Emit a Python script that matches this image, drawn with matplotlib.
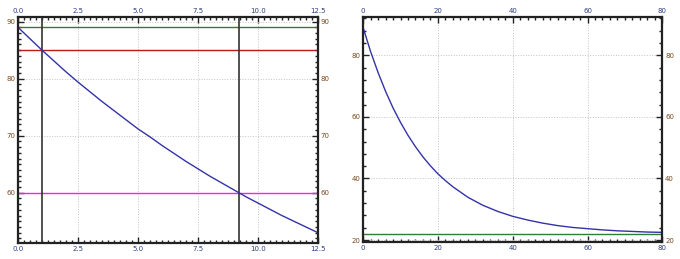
import matplotlib

matplotlib.use("Agg")
import matplotlib.pyplot as plt
from matplotlib.ticker import MultipleLocator

# left panel: cooling curve over the first 12.5 units
t_short = [0.0, 0.5, 1.0, 1.5, 2.0, 2.5, 3.0, 3.5, 4.0, 4.5, 5.0, 5.5, 6.0,
           6.5, 7.0, 7.5, 8.0, 8.5, 9.0, 9.5, 10.0, 10.5, 11.0, 11.5, 12.0, 12.5]
temp_short = [89.0, 87.0, 85.0, 83.1, 81.2, 79.4, 77.7, 76.0, 74.4, 72.8, 71.2,
              69.8, 68.3, 66.9, 65.5, 64.2, 62.9, 61.7, 60.5, 59.3, 58.2, 57.1,
              56.0, 55.0, 54.0, 53.0]
hlines_short = [89.0, 85.0, 60.0]
hline_colors = ["#2e7d32", "#b71c1c", "#ee22ee"]
vlines_short = [1.0, 9.2]

# right panel: full cooling curve towards room temperature
t_long = [0, 2, 4, 6, 8, 10, 12, 14, 16, 18, 20, 22, 24, 28, 32, 36, 40, 44,
          48, 52, 56, 60, 64, 68, 72, 76, 80]
temp_long = [89.0, 81.2, 74.4, 68.3, 62.9, 58.2, 54.0, 50.3, 47.0, 44.1, 41.5,
             39.3, 37.3, 33.9, 31.3, 29.3, 27.7, 26.5, 25.5, 24.7, 24.1, 23.7,
             23.3, 23.0, 22.8, 22.6, 22.5]
room_temp = 22.0

CURVE = "#3333a8"
XLAB = "#2f3f80"
YLAB = "#7a4a1e"


def style_axes(ax, xmaj, xmin, ymaj, ymin):
    ax.xaxis.set_major_locator(MultipleLocator(xmaj))
    ax.xaxis.set_minor_locator(MultipleLocator(xmin))
    ax.yaxis.set_major_locator(MultipleLocator(ymaj))
    ax.yaxis.set_minor_locator(MultipleLocator(ymin))
    ax.tick_params(which="both", direction="in", top=True, right=True,
                   labeltop=True, labelright=True, width=1.0, color="#222222")
    ax.tick_params(which="major", length=4, labelsize=5, pad=2)
    ax.tick_params(which="minor", length=2)
    ax.tick_params(axis="x", labelcolor=XLAB)
    ax.tick_params(axis="y", labelcolor=YLAB)
    for sp in ax.spines.values():
        sp.set_linewidth(1.6)
        sp.set_color("#222222")
    ax.grid(True, which="major", linestyle=":", linewidth=0.7, color="#c4c4c4")
    ax.set_axisbelow(True)


fig = plt.figure(figsize=(6.8, 2.59), dpi=100)
ax1 = fig.add_axes([0.0265, 0.062, 0.441, 0.872])
ax2 = fig.add_axes([0.534, 0.066, 0.440, 0.868])

for y, c in zip(hlines_short, hline_colors):
    ax1.axhline(y, color=c, linewidth=1.0)
for x in vlines_short:
    ax1.axvline(x, color="#333333", linewidth=1.2)
ax1.plot(t_short, temp_short, color=CURVE, linewidth=1.0)
ax1.set_xlim(0, 12.5)
ax1.set_ylim(51.2, 90.8)
style_axes(ax1, 2.5, 0.25, 10, 1)
ax1.xaxis.set_major_formatter(lambda v, pos: f"{v:.1f}")

ax2.axhline(room_temp, color="#2e7d32", linewidth=1.0)
ax2.plot(t_long, temp_long, color=CURVE, linewidth=1.0)
ax2.set_xlim(0, 80)
ax2.set_ylim(19.4, 92.4)
style_axes(ax2, 20, 2, 20, 4)

fig.savefig("out.png", dpi=100)
